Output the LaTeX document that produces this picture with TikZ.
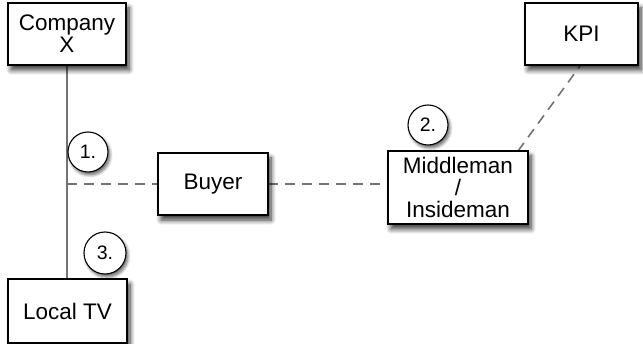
\documentclass[tikz,border=0pt]{standalone}
\usepackage{fontspec}
\setmainfont{Liberation Sans}
\usetikzlibrary{shadows.blur,calc}
\begin{document}
\begin{tikzpicture}[x=1pt,y=-1pt,
  box/.style={draw=black, line width=1.3pt, fill=white, align=center,
    inner sep=0pt, font=\fontsize{22.5}{22}\selectfont,
    blur shadow={shadow xshift=3pt, shadow yshift=-5pt, shadow blur radius=5pt,
      shadow blur steps=8, shadow opacity=80}},
  stepnum/.style={draw=black, line width=1.1pt, circle, fill=white, inner sep=0pt,
    minimum size=40pt, font=\fontsize{19.5}{20}\selectfont,
    blur shadow={shadow xshift=2pt, shadow yshift=-3pt, shadow blur radius=3pt,
      shadow blur steps=6, shadow opacity=60}},
  solidlink/.style={draw=black!55, line width=1.6pt},
  dashlink/.style={draw=black!55, line width=1.6pt, dash pattern=on 10pt off 7pt}]
  \useasboundingbox (0,0) rectangle (643,344);

  % connectors first, boxes drawn over them
  \coordinate (cxs) at (67,65);
  \coordinate (tvn) at (67,278);
  \coordinate (tap) at (67,184);
  \coordinate (midne) at (518,151);
  \coordinate (kpis) at (580,66);
  \draw[solidlink] (cxs) -- (tvn);
  \draw[dashlink] (tap) -- (158,184);
  \draw[dashlink] (268,184) -- (388,184);
  \draw[dashlink] (midne) -- (kpis);

  \node[box, minimum width=118pt, minimum height=62pt] (cx) at (67,34) {Company\\X};
  \node[box, minimum width=119pt, minimum height=64pt] (tv) at (67.5,311) {Local TV};
  \node[box, minimum width=110pt, minimum height=62pt] (buyer) at (213,184) {Buyer};
  \node[box, minimum width=140pt, minimum height=73pt] (mid) at (458,187.5) {Middleman\\/\\Insideman};
  \node[box, minimum width=113pt, minimum height=62pt] (kpi) at (581.5,34) {KPI};

  \node[stepnum] (n1) at (88,152) {1.};
  \node[stepnum] (n2) at (428,125) {2.};
  \node[stepnum, minimum size=42pt] (n3) at (105,253) {3.};
\end{tikzpicture}
\end{document}
